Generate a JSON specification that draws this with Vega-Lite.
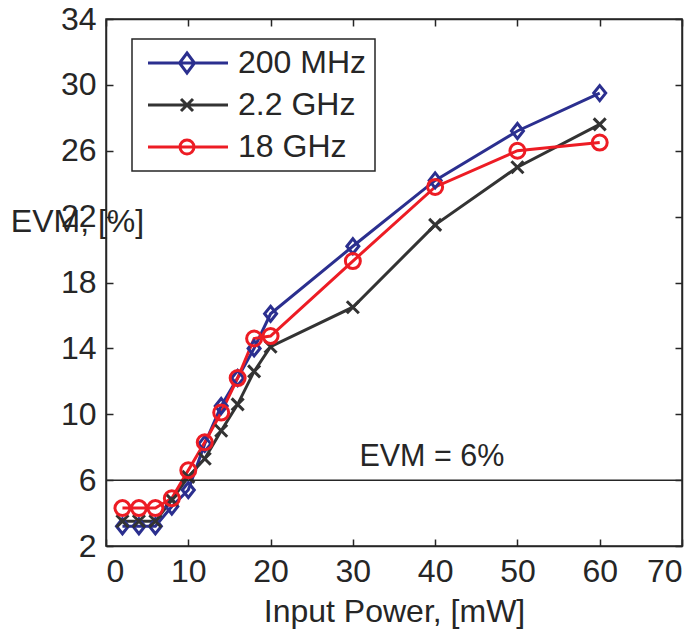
{
  "$schema": "https://vega.github.io/schema/vega-lite/v6.json",
  "autosize": "none",
  "padding": {"left": 106, "top": 19, "right": 17, "bottom": 84},
  "width": 576,
  "height": 527,
  "background": "white",
  "config": {
    "font": "Liberation Sans",
    "view": {"stroke": "#262626", "strokeWidth": 1.5},
    "axis": {
      "grid": false,
      "domainColor": "#262626",
      "domainWidth": 1.5,
      "tickColor": "#262626",
      "tickWidth": 1.5,
      "tickSize": -7,
      "labelFont": "Liberation Sans",
      "labelFontSize": 32,
      "labelColor": "#262626",
      "titleFont": "Liberation Sans",
      "titleFontSize": 32,
      "titleFontWeight": "normal",
      "titleColor": "#262626"
    },
    "legend": {
      "orient": "none",
      "legendX": 26,
      "legendY": 20,
      "symbolSize": 400,
      "symbolStrokeWidth": 3,
      "labelFont": "Liberation Sans",
      "labelFontSize": 32,
      "labelColor": "#262626",
      "labelOffset": 66,
      "rowPadding": 10,
      "padding": 8,
      "strokeColor": "#262626",
      "strokeWidth": 1.5,
      "fillColor": "white"
    }
  },
  "data": {
    "values": [
      {"series": "200 MHz", "power": 2, "evm": 3.2},
      {"series": "200 MHz", "power": 4, "evm": 3.2},
      {"series": "200 MHz", "power": 6, "evm": 3.2},
      {"series": "200 MHz", "power": 8, "evm": 4.4},
      {"series": "200 MHz", "power": 10, "evm": 5.4},
      {"series": "200 MHz", "power": 12, "evm": 8.2},
      {"series": "200 MHz", "power": 14, "evm": 10.5},
      {"series": "200 MHz", "power": 16, "evm": 12.2},
      {"series": "200 MHz", "power": 18, "evm": 14.0},
      {"series": "200 MHz", "power": 20, "evm": 16.1},
      {"series": "200 MHz", "power": 30, "evm": 20.2},
      {"series": "200 MHz", "power": 40, "evm": 24.2},
      {"series": "200 MHz", "power": 50, "evm": 27.2},
      {"series": "200 MHz", "power": 60, "evm": 29.5},
      {"series": "2.2 GHz", "power": 2, "evm": 3.5},
      {"series": "2.2 GHz", "power": 4, "evm": 3.5},
      {"series": "2.2 GHz", "power": 6, "evm": 3.5},
      {"series": "2.2 GHz", "power": 8, "evm": 4.8},
      {"series": "2.2 GHz", "power": 10, "evm": 6.2},
      {"series": "2.2 GHz", "power": 12, "evm": 7.3},
      {"series": "2.2 GHz", "power": 14, "evm": 9.0},
      {"series": "2.2 GHz", "power": 16, "evm": 10.6},
      {"series": "2.2 GHz", "power": 18, "evm": 12.6},
      {"series": "2.2 GHz", "power": 20, "evm": 14.1},
      {"series": "2.2 GHz", "power": 30, "evm": 16.5},
      {"series": "2.2 GHz", "power": 40, "evm": 21.5},
      {"series": "2.2 GHz", "power": 50, "evm": 25.0},
      {"series": "2.2 GHz", "power": 60, "evm": 27.6},
      {"series": "18 GHz", "power": 2, "evm": 4.3},
      {"series": "18 GHz", "power": 4, "evm": 4.3},
      {"series": "18 GHz", "power": 6, "evm": 4.3},
      {"series": "18 GHz", "power": 8, "evm": 4.9},
      {"series": "18 GHz", "power": 10, "evm": 6.6},
      {"series": "18 GHz", "power": 12, "evm": 8.3},
      {"series": "18 GHz", "power": 14, "evm": 10.1},
      {"series": "18 GHz", "power": 16, "evm": 12.2},
      {"series": "18 GHz", "power": 18, "evm": 14.6},
      {"series": "18 GHz", "power": 20, "evm": 14.75},
      {"series": "18 GHz", "power": 30, "evm": 19.3},
      {"series": "18 GHz", "power": 40, "evm": 23.8},
      {"series": "18 GHz", "power": 50, "evm": 26.0},
      {"series": "18 GHz", "power": 60, "evm": 26.5}
    ]
  },
  "resolve": {
    "axis": {"x": "independent", "y": "independent"},
    "scale": {"color": "independent", "shape": "independent"}
  },
  "layer": [
    {
      "mark": {"type": "line", "strokeWidth": 3},
      "encoding": {
        "x": {
          "field": "power", "type": "quantitative",
          "scale": {"domain": [0, 70], "nice": false, "zero": false},
          "axis": {"values": [0, 10, 20, 30, 40, 50, 60, 70], "title": "Input Power, [mW]", "labelPadding": 17, "titleY": 65, "titleBaseline": "middle", "titleAnchor": "middle"}
        },
        "y": {
          "field": "evm", "type": "quantitative",
          "scale": {"domain": [2, 34], "nice": false, "zero": false},
          "axis": {"values": [2, 6, 10, 14, 18, 22, 26, 30, 34], "title": "EVM, [%]", "labelPadding": 17, "titleAngle": 0, "titleX": -29, "titleY": 202, "titleAlign": "center", "titleBaseline": "middle"}
        },
        "color": {
          "field": "series", "type": "nominal",
          "scale": {"domain": ["200 MHz", "2.2 GHz", "18 GHz"], "range": ["#2B2F8F", "#333333", "#ED1C24"]},
          "legend": null
        }
      }
    },
    {
      "mark": {"type": "point", "filled": false, "strokeWidth": 3, "size": 225, "opacity": 1},
      "encoding": {
        "x": {"field": "power", "type": "quantitative", "axis": null},
        "y": {"field": "evm", "type": "quantitative", "axis": null},
        "color": {
          "field": "series", "type": "nominal",
          "scale": {"domain": ["200 MHz", "2.2 GHz", "18 GHz"], "range": ["#2B2F8F", "#333333", "#ED1C24"]},
          "legend": null
        },
        "shape": {
          "field": "series", "type": "nominal",
          "scale": {"domain": ["200 MHz", "2.2 GHz", "18 GHz"], "range": ["M0,-1L0.8,0L0,1L-0.8,0Z", "M-0.8,-0.8L0.8,0.8M-0.8,0.8L0.8,-0.8", "circle"]},
          "legend": null
        }
      }
    },
    {
      "transform": [{"filter": "datum.power < 0"}],
      "mark": {"type": "point", "filled": false, "strokeWidth": 3, "opacity": 1},
      "encoding": {
        "x": {"field": "power", "type": "quantitative", "axis": null},
        "y": {"field": "evm", "type": "quantitative", "axis": null},
        "color": {
          "field": "series", "type": "nominal",
          "scale": {"domain": ["200 MHz", "2.2 GHz", "18 GHz"], "range": ["#2B2F8F", "#333333", "#ED1C24"]},
          "legend": {"title": null}
        },
        "shape": {
          "field": "series", "type": "nominal",
          "scale": {"domain": ["200 MHz", "2.2 GHz", "18 GHz"], "range": ["M-0.8,0H7.2M3.1,-1L3.85,0L3.1,1L2.35,0Z", "M-0.8,0H7.2M2.5,-0.6L3.7,0.6M2.5,0.6L3.7,-0.6", "M-0.8,0H7.2M2.4,0A0.7,0.7 0 1,0 3.8,0A0.7,0.7 0 1,0 2.4,0"]},
          "legend": {"title": null}
        }
      }
    },
    {
      "data": {"values": [{"level": 6}]},
      "mark": {"type": "rule", "color": "#262626", "strokeWidth": 1.5},
      "encoding": {
        "y": {"field": "level", "type": "quantitative", "axis": null}
      }
    },
    {
      "data": {"values": [{"label": "EVM = 6%", "px": 39.6, "py": 6}]},
      "mark": {"type": "text", "fontSize": 30.5, "font": "Liberation Sans", "color": "#262626", "dy": -23, "baseline": "middle", "align": "center"},
      "encoding": {
        "x": {"field": "px", "type": "quantitative", "axis": {"orient": "top", "labels": false, "title": null, "values": [0, 10, 20, 30, 40, 50, 60, 70]}},
        "y": {"field": "py", "type": "quantitative", "axis": {"orient": "right", "labels": false, "title": null, "values": [2, 6, 10, 14, 18, 22, 26, 30, 34]}},
        "text": {"field": "label"}
      }
    }
  ]
}
